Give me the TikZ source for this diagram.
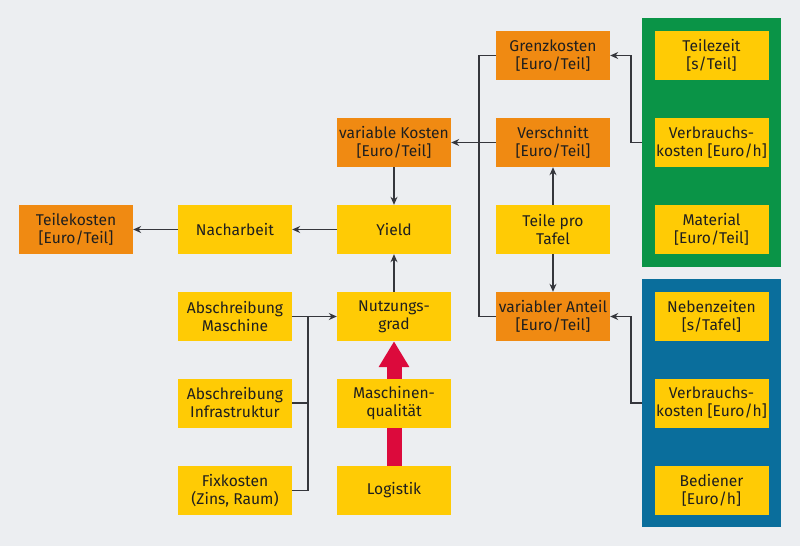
\documentclass[tikz,border=0pt]{standalone}
\usepackage{fontspec}
\setmainfont{Fira Sans}
\usetikzlibrary{arrows.meta,backgrounds,calc}
\definecolor{bgc}{HTML}{ECEEF1}
\definecolor{ora}{HTML}{F08A12}
\definecolor{yel}{HTML}{FFCB05}
\definecolor{grn}{HTML}{0A9447}
\definecolor{blu}{HTML}{0A6E9C}
\definecolor{rd}{HTML}{DC0A3C}
\definecolor{ln}{HTML}{35363C}
\tikzset{
  box/.style={minimum width=114pt,minimum height=49pt,inner sep=0pt,align=center,
    font=\fontsize{15.6}{18}\selectfont,text=black!88},
  obox/.style={box,fill=ora},
  ybox/.style={box,fill=yel},
  panel/.style={minimum width=139pt,inner sep=0pt},
  conn/.style={draw=ln,line width=1.1pt},
  arr/.style={conn,-{Stealth[length=8pt,width=7pt]}},
}
\begin{document}
\begin{tikzpicture}[x=1pt,y=-1pt]
\useasboundingbox (0,0) rectangle (800,546);
\begin{scope}[on background layer]
  \fill[bgc] (0,0) rectangle (800,546);
\end{scope}
% panels
\node[panel,fill=grn,minimum height=249pt] (gp) at (711.5,142.5) {};
\node[panel,fill=blu,minimum height=248pt] (bp) at (711.5,403) {};
% nodes
\node[obox] (tk) at (76,229.5) {Teilekosten\\{[Euro/Teil]}};
\node[ybox] (na) at (235,229.5) {Nacharbeit};
\node[ybox] (yi) at (394,229.5) {Yield};
\node[obox] (vk) at (394,142.5) {variable Kosten\\{[Euro/Teil]}};
\node[obox] (gk) at (553,55.5) {Grenzkosten\\{[Euro/Teil]}};
\node[obox] (vs) at (553,142.5) {Verschnitt\\{[Euro/Teil]}};
\node[ybox] (tp) at (553,229.5) {Teile pro\\Tafel};
\node[obox] (va) at (553,316.5) {variabler Anteil\\{[Euro/Teil]}};
\node[ybox] (am) at (235,316.5) {Abschreibung\\Maschine};
\node[ybox] (ai) at (235,403) {Abschreibung\\Infrastruktur};
\node[ybox] (fk) at (235,490.5) {Fixkosten\\(Zins, Raum)};
\node[ybox] (ng) at (394,316.5) {Nutzungs-\\grad};
\node[ybox] (mq) at (394,403) {Maschinen-\\qualität};
\node[ybox] (lo) at (394,490.5) {Logistik};
\node[ybox] (tz) at (711.5,55.5) {Teilezeit\\{[s/Teil]}};
\node[ybox] (vb1) at (711.5,142.5) {Verbrauchs-\\kosten [Euro/h]};
\node[ybox] (ma) at (711.5,229.5) {Material\\{[Euro/Teil]}};
\node[ybox] (nz) at (711.5,316.5) {Nebenzeiten\\{[s/Tafel]}};
\node[ybox] (vb2) at (711.5,403) {Verbrauchs-\\kosten [Euro/h]};
\node[ybox] (be) at (711.5,490.5) {Bediener\\{[Euro/h]}};
% red arrow
\begin{scope}[on background layer]
  \draw[rd,line width=15pt,-{Triangle[width=29pt,length=26pt]}] (lo.north) -- (ng.south);
\end{scope}
% coordinates
\coordinate (jx) at (479,142.5);
\coordinate (bx) at (308,316.5);
\coordinate (gx) at (631,0);
% connectors
\draw[conn] (gk.west) -| (jx) |- (va.west);
\draw[arr] (vs.west) -- (vk.east);
\draw[arr] (tp.north) -- (vs.south);
\draw[arr] (tp.south) -- (va.north);
\draw[arr] (gp.west |- vb1.west) -| (gx |- gk.east) -- (gk.east);
\draw[arr] (bp.west |- vb2.west) -| (gx |- va.east) -- (va.east);
\draw[arr] (vk.south) -- (yi.north);
\draw[arr] (yi.west) -- (na.east);
\draw[arr] (na.west) -- (tk.east);
\draw[arr] (ng.north) -- (yi.south);
\draw[arr] (am.east) -- (ng.west);
\draw[conn] (fk.east) -| (bx);
\draw[conn] (ai.east) -- (ai.east -| bx);
\end{tikzpicture}
\end{document}
